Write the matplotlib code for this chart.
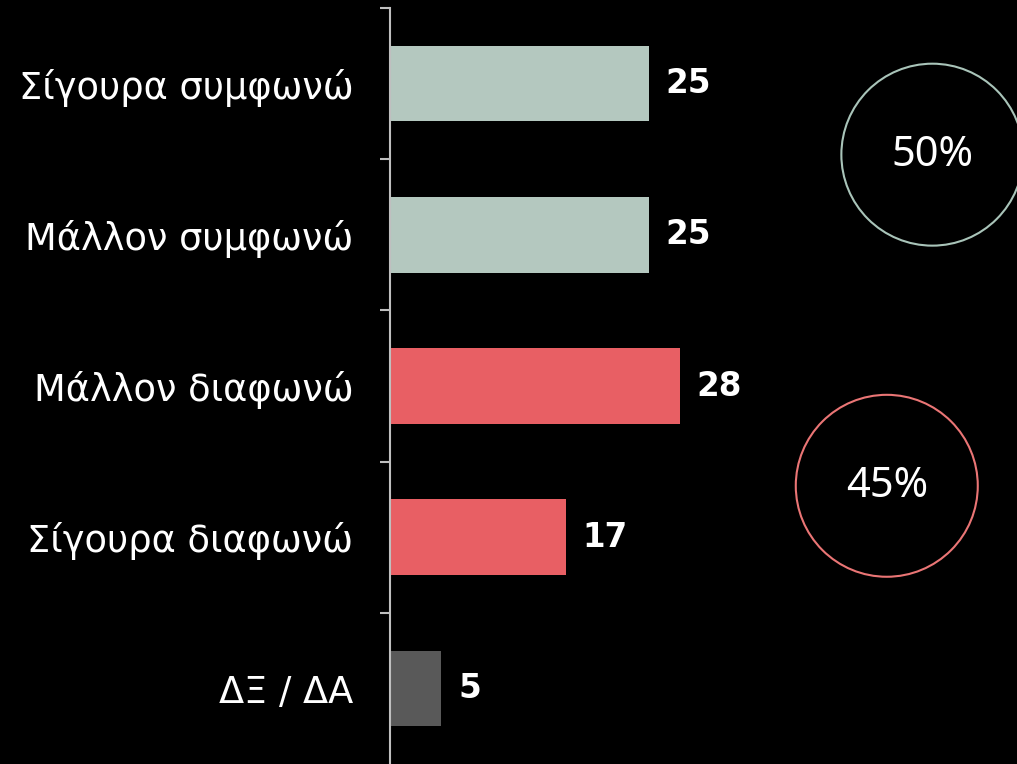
import matplotlib
matplotlib.use("Agg")
import matplotlib.pyplot as plt
from matplotlib.patches import Ellipse
from matplotlib.ticker import FixedLocator, NullFormatter

categories = ["Σίγουρα συμφωνώ", "Μάλλον συμφωνώ", "Μάλλον διαφωνώ", "Σίγουρα διαφωνώ", "ΔΞ / ΔΑ"]
values = [25, 25, 28, 17, 5]
bar_colors = ["#B4C8BF", "#B4C8BF", "#E85F64", "#E85F64", "#595959"]

totals = ["50%", "45%"]
total_colors = ["#A9C4B9", "#EA7575"]

W, H, DPI = 1017, 764, 100
fig = plt.figure(figsize=(W / DPI, H / DPI), dpi=DPI, facecolor="black")

# axes: left edge at the y axis line, 10.36 px per unit on x
px_per_unit = 10.36
ax_left = 389.5 / W
ax_w = 60 * px_per_unit / W
ax_top = 8 / H
ax = fig.add_axes([ax_left, 0, ax_w, 1 - ax_top])
ax.set_facecolor("black")

y = list(range(len(categories)))
ax.barh(y, values, height=0.5, color=bar_colors)
ax.set_xlim(0, 60)
ax.set_ylim(len(categories) - 0.5, -0.5)

for sp in ["top", "right", "bottom"]:
    ax.spines[sp].set_visible(False)
ax.spines["left"].set_color("#BFBFBF")
ax.spines["left"].set_linewidth(1.5)
ax.set_xticks([])

# ticks on category boundaries, labels centred on bars
ax.yaxis.set_major_locator(FixedLocator([i - 0.5 for i in range(len(categories))]))
ax.yaxis.set_major_formatter(NullFormatter())
ax.yaxis.set_minor_locator(FixedLocator(y))
ax.set_yticklabels(categories, minor=True)
ax.tick_params(axis="y", which="major", length=7, width=1.5, color="#BFBFBF")
ax.tick_params(axis="y", which="minor", length=0, pad=26, labelsize=26.5, labelcolor="white")
for lab in ax.get_yticklabels(minor=True):
    lab.set_family(["DejaVu Sans"])

for i, v in enumerate(values):
    ax.text(v + 1.65, i, str(v), va="center", ha="left", color="white",
            fontsize=23.5, fontweight="bold", family=["DejaVu Sans"])

# total circles
r_px = 91
centres = [(52.4, 0.47), (48.0, 2.66)]
for (cx, cy), txt, col in zip(centres, totals, total_colors):
    e = Ellipse((cx, cy), width=2 * r_px / px_per_unit, height=2 * r_px / 151.25,
                fill=False, edgecolor=col, linewidth=1.5, clip_on=False)
    ax.add_patch(e)
    ax.text(cx, cy, txt, ha="center", va="center", color="white", fontsize=30,
            family=["Noto Sans", "DejaVu Sans"])

fig.savefig("out.png", dpi=DPI, facecolor="black")
